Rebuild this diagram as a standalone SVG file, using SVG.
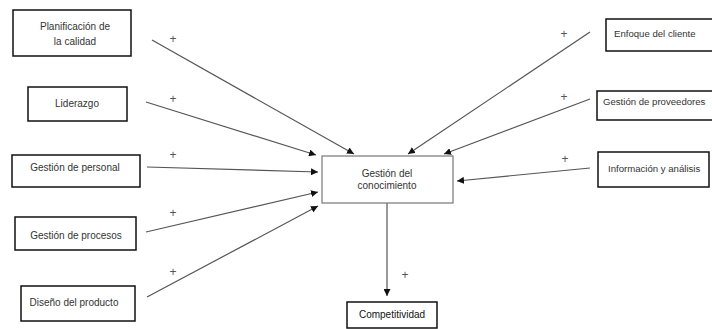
<svg xmlns="http://www.w3.org/2000/svg" width="712" height="329" viewBox="0 0 712 329">
<style>
.box{fill:#fff;stroke:#111;stroke-width:1.5}
.cbox{fill:#fff;stroke:#777;stroke-width:1.2}
.t{font-family:"Liberation Sans",Arial,sans-serif;font-size:10px;fill:#333;text-anchor:middle}
.tl{font-family:"Liberation Sans",Arial,sans-serif;font-size:9.6px;fill:#333}
.p{font-family:"Liberation Sans",Arial,sans-serif;font-size:12px;fill:#555;text-anchor:middle}
.c{stroke:#555;stroke-width:1.2;fill:none;marker-end:url(#ah)}
</style>
<defs>
<marker id="ah" viewBox="0 0 10 10" refX="10" refY="5" markerWidth="7" markerHeight="7" markerUnits="userSpaceOnUse" orient="auto">
<path d="M0,0 L10,5 L0,10 z" fill="#111"/>
</marker>
</defs>
<rect width="712" height="329" fill="#fff"/>
<g id="connectors">
<line class="c" x1="152" y1="40" x2="354" y2="154"/>
<line class="c" x1="146" y1="102" x2="316" y2="155"/>
<line class="c" x1="147" y1="167" x2="318" y2="172"/>
<line class="c" x1="146" y1="232" x2="318" y2="192"/>
<line class="c" x1="147" y1="297" x2="318" y2="206"/>
<line class="c" x1="590" y1="32" x2="408" y2="154"/>
<line class="c" x1="590" y1="99" x2="444" y2="154"/>
<line class="c" x1="590" y1="168" x2="457" y2="181"/>
<line class="c" x1="387" y1="203" x2="387" y2="296"/>
<text class="p" x="173" y="43">+</text>
<text class="p" x="173" y="103">+</text>
<text class="p" x="173" y="159">+</text>
<text class="p" x="173" y="217">+</text>
<text class="p" x="173" y="276">+</text>
<text class="p" x="564" y="38">+</text>
<text class="p" x="564" y="101">+</text>
<text class="p" x="565" y="163">+</text>
<text class="p" x="405" y="279">+</text>
</g>
<g id="planificacion"><rect class="box" x="13" y="10" width="118" height="46"/><text class="t" x="75" y="30">Planificación de</text><text class="t" x="75" y="45">la calidad</text></g>
<g id="liderazgo"><rect class="box" x="28" y="87" width="99" height="34"/><text class="t" x="77" y="107">Liderazgo</text></g>
<g id="personal"><rect class="box" x="12" y="155" width="128" height="32"/><text class="t" x="75" y="171">Gestión de personal</text></g>
<g id="procesos"><rect class="box" x="15" y="217" width="121" height="33"/><text class="t" x="76" y="239">Gestión de procesos</text></g>
<g id="diseno"><rect class="box" x="21" y="286" width="114" height="35"/><text class="t" x="74" y="306">Diseño del producto</text></g>
<g id="conocimiento"><rect class="cbox" x="322" y="156" width="131" height="47"/><text class="t" x="387" y="177">Gestión del</text><text class="t" x="387" y="189">conocimiento</text></g>
<g id="competitividad"><rect class="box" x="347" y="302" width="90" height="26"/><text class="t" x="392" y="318" style="fill:#111">Competitividad</text></g>
<g id="enfoque"><rect class="box" x="606" y="19" width="110" height="32"/><text class="tl" x="614" y="37">Enfoque del cliente</text></g>
<g id="proveedores"><rect class="box" x="597" y="91" width="120" height="29"/><text class="tl" x="603" y="105">Gestión de proveedores</text></g>
<g id="informacion"><rect class="box" x="598" y="152" width="111" height="35"/><text class="tl" x="608" y="172">Información y análisis</text></g>
</svg>
